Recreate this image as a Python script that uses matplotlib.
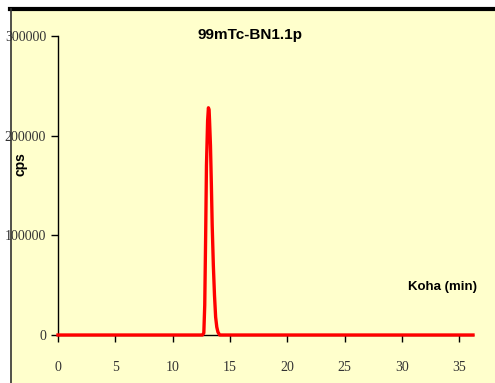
import matplotlib
matplotlib.use('Agg')
import matplotlib.pyplot as plt
from matplotlib.patches import Rectangle

# chromatogram
time_min = [0.0, 5.0, 10.0, 12.6, 12.72, 12.8, 12.88, 12.95, 13.05, 13.12, 13.18,
            13.22, 13.3, 13.38, 13.45, 13.55, 13.65, 13.75, 13.85, 13.95, 14.1,
            20.0, 25.0, 30.0, 36.2]
counts = [0, 0, 0, 0, 2000, 30000, 100000, 170000, 215000, 228000, 226000,
          215000, 190000, 150000, 110000, 70000, 40000, 18000, 8000, 3000, 0,
          0, 0, 0, 0]

x_ticks = [0, 5, 10, 15, 20, 25, 30, 35]
y_ticks = [0, 100000, 200000, 300000]

title = "99mTc-BN1.1p"
xlabel = "Koha (min)"
ylabel = "cps"

W, H = 495, 383
fig = plt.figure(figsize=(W / 100, H / 100), dpi=100)
fig.patch.set_facecolor('white')

# yellow panel with black frame on top/left
bg = Rectangle((10 / W, 0), 1 - 10 / W, 1 - 8 / H, transform=fig.transFigure,
               facecolor='#FFFFCC', edgecolor='none', zorder=-10)
fig.patches.append(bg)
fig.add_artist(plt.Line2D([10 / W, 1], [1 - 9 / H, 1 - 9 / H], transform=fig.transFigure,
                          color='black', lw=3))
fig.add_artist(plt.Line2D([10.5 / W, 10.5 / W], [0, 1 - 9 / H], transform=fig.transFigure,
                          color='#333333', lw=1.2))

ax = fig.add_axes([58 / W, 1 - 335 / H, (473 - 58) / W, (335 - 36) / H])
ax.set_facecolor('none')
ax.plot(time_min, counts, color='red', lw=2.4, clip_on=False, zorder=5)

ax.set_xlim(0, 36.2)
ax.set_ylim(0, 300000)
ax.set_xticks(x_ticks)
ax.set_yticks(y_ticks)
ax.set_yticklabels([str(v) for v in y_ticks])
for s in ['top', 'right']:
    ax.spines[s].set_visible(False)
ax.spines['left'].set_linewidth(1.0)
ax.spines['bottom'].set_linewidth(1.0)
ax.tick_params(direction='out', length=5, width=1, labelsize=10)
ax.tick_params(axis='x', pad=14)
for lab in ax.get_xticklabels() + ax.get_yticklabels():
    lab.set_family(['Liberation Serif', 'DejaVu Serif'])
    lab.set_color('#333333')

fig.text(250 / W, 1 - 35 / H, title, ha='center', va='center', fontsize=11,
         fontweight='bold', family=['Liberation Sans', 'DejaVu Sans'])
fig.text(442 / W, 1 - 287 / H, xlabel, ha='center', va='center', fontsize=9.5,
         fontweight='bold', family=['Liberation Sans', 'DejaVu Sans'])
fig.text(20 / W, 1 - 164 / H, ylabel, ha='center', va='center', fontsize=10,
         fontweight='bold', rotation=90, family=['Liberation Sans', 'DejaVu Sans'])

fig.savefig('out.png', dpi=100)
